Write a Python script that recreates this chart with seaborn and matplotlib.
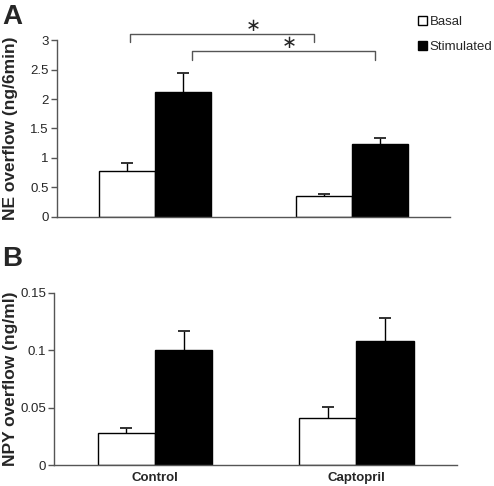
import matplotlib
matplotlib.use("Agg")
import matplotlib.pyplot as plt
import seaborn as sns
import pandas as pd
import numpy as np
from matplotlib.patches import Patch

# ---- data ----
groups = ["Control", "Captopril"]
conditions = ["Basal", "Stimulated"]
# order: Control-Basal, Control-Stimulated, Captopril-Basal, Captopril-Stimulated
ne_mean = [0.78, 2.12, 0.36, 1.23]
ne_err = [0.13, 0.33, 0.02, 0.11]
npy_mean = [0.028, 0.0998, 0.0408, 0.1076]
npy_err = [0.0045, 0.0168, 0.0100, 0.0204]
ne_ticks = [0, 0.5, 1, 1.5, 2, 2.5, 3]
ne_ticklabels = ["0", "0.5", "1", "1.5", "2", "2.5", "3"]
npy_ticks = [0, 0.05, 0.1, 0.15]
npy_ticklabels = ["0", "0.05", "0.1", "0.15"]

grp_col = [g for g in groups for _ in conditions]
cond_col = [c for _ in groups for c in conditions]
df_ne = pd.DataFrame({"group": grp_col, "condition": cond_col, "value": ne_mean, "err": ne_err})
df_npy = pd.DataFrame({"group": grp_col, "condition": cond_col, "value": npy_mean, "err": npy_err})

sns.set_style("white")
plt.rcParams["font.family"] = ["Liberation Sans", "DejaVu Sans"]

SPINE = "#555555"
fig = plt.figure(figsize=(4.94, 4.86), dpi=100)
axA = fig.add_axes([57 / 494, 1 - 216.7 / 486, (450 - 57) / 494, (216.7 - 40.3) / 486])
axB = fig.add_axes([54.3 / 494, 1 - 465.3 / 486, (457 - 54.3) / 494, (465.3 - 292.7) / 486])

palette = {"Basal": "white", "Stimulated": "black"}


def draw(ax, df, ticks, ticklabels, ylabel, show_cats, label_x):
    sns.barplot(data=df, x="group", y="value", hue="condition", order=groups,
                hue_order=conditions, palette=palette, edgecolor="black",
                linewidth=1.0, width=0.57, errorbar=None, legend=False, ax=ax,
                saturation=1)
    means = df["value"].to_numpy()
    errs = df["err"].to_numpy()
    for p in list(ax.patches):
        h = p.get_height()
        if h <= 0:
            continue
        idx = int(np.argmin(np.abs(means - h)))
        xc = p.get_x() + p.get_width() / 2
        top = h + errs[idx]
        ax.plot([xc, xc], [h, top], color="black", lw=1.0, zorder=1,
                solid_capstyle="butt")
        ax.plot([xc], [top], marker="_", ms=8, mew=1.3, color="#222222", zorder=1)
    ax.set_xlim(-0.5, 1.5)
    ax.set_ylim(ticks[0], ticks[-1])
    ax.set_yticks(ticks)
    ax.set_yticklabels(ticklabels, fontsize=9.5)
    ax.set_xticks([0, 1])
    ax.set_xticklabels(groups if show_cats else ["", ""], fontsize=9.5, fontweight="bold")
    ax.set_xticks([-0.5, 0.5, 1.5], minor=True)
    ax.tick_params(axis="x", which="major", length=0, pad=5)
    ax.tick_params(axis="x", which="minor", length=4, width=1, color=SPINE, direction="out")
    ax.tick_params(axis="y", length=4, width=1, color=SPINE, direction="out", pad=2, left=True)
    ax.set_xlabel("")
    ax.set_ylabel(ylabel, fontsize=12.5, fontweight="bold")
    ax.yaxis.set_label_coords(label_x, 0.5)
    for s in ["top", "right"]:
        ax.spines[s].set_visible(False)
    for s in ["left", "bottom"]:
        ax.spines[s].set_color(SPINE)
        ax.spines[s].set_linewidth(1.0)


draw(axA, df_ne, ne_ticks, ne_ticklabels, "NE overflow (ng/6min)", False, -0.10)
draw(axB, df_npy, npy_ticks, npy_ticklabels, "NPY overflow (ng/ml)", True, -0.09)

# significance brackets (panel A)
brackets = [(-0.127, 0.806, 3.11, 2.97, 0.499, 3.25),
            (0.187, 1.117, 2.81, 2.66, 0.682, 2.95)]
for x0, x1, ytop, ytip, xs, ys in brackets:
    axA.plot([x0, x0, x1, x1], [ytip, ytop, ytop, ytip], color=SPINE, lw=1.0,
             clip_on=False)
    axA.text(xs, ys, "\u2217", ha="center", va="center", fontsize=13,
             family="DejaVu Sans", clip_on=False)

# legend
fig.legend(handles=[Patch(facecolor="white", edgecolor="black"),
                    Patch(facecolor="black", edgecolor="black")],
           labels=conditions, loc="upper left", bbox_to_anchor=(418 / 494, 1 - 16 / 486),
           frameon=False, handlelength=0.7, handleheight=0.7, handletextpad=0.2,
           labelspacing=0.95, fontsize=9.5, borderpad=0, borderaxespad=0)

fig.text(2 / 494, 1 - 4 / 486, "A", fontsize=20, fontweight="bold", ha="left", va="top")
fig.text(2 / 494, 1 - 246 / 486, "B", fontsize=20, fontweight="bold", ha="left", va="top")

fig.savefig("out.png", dpi=100)
